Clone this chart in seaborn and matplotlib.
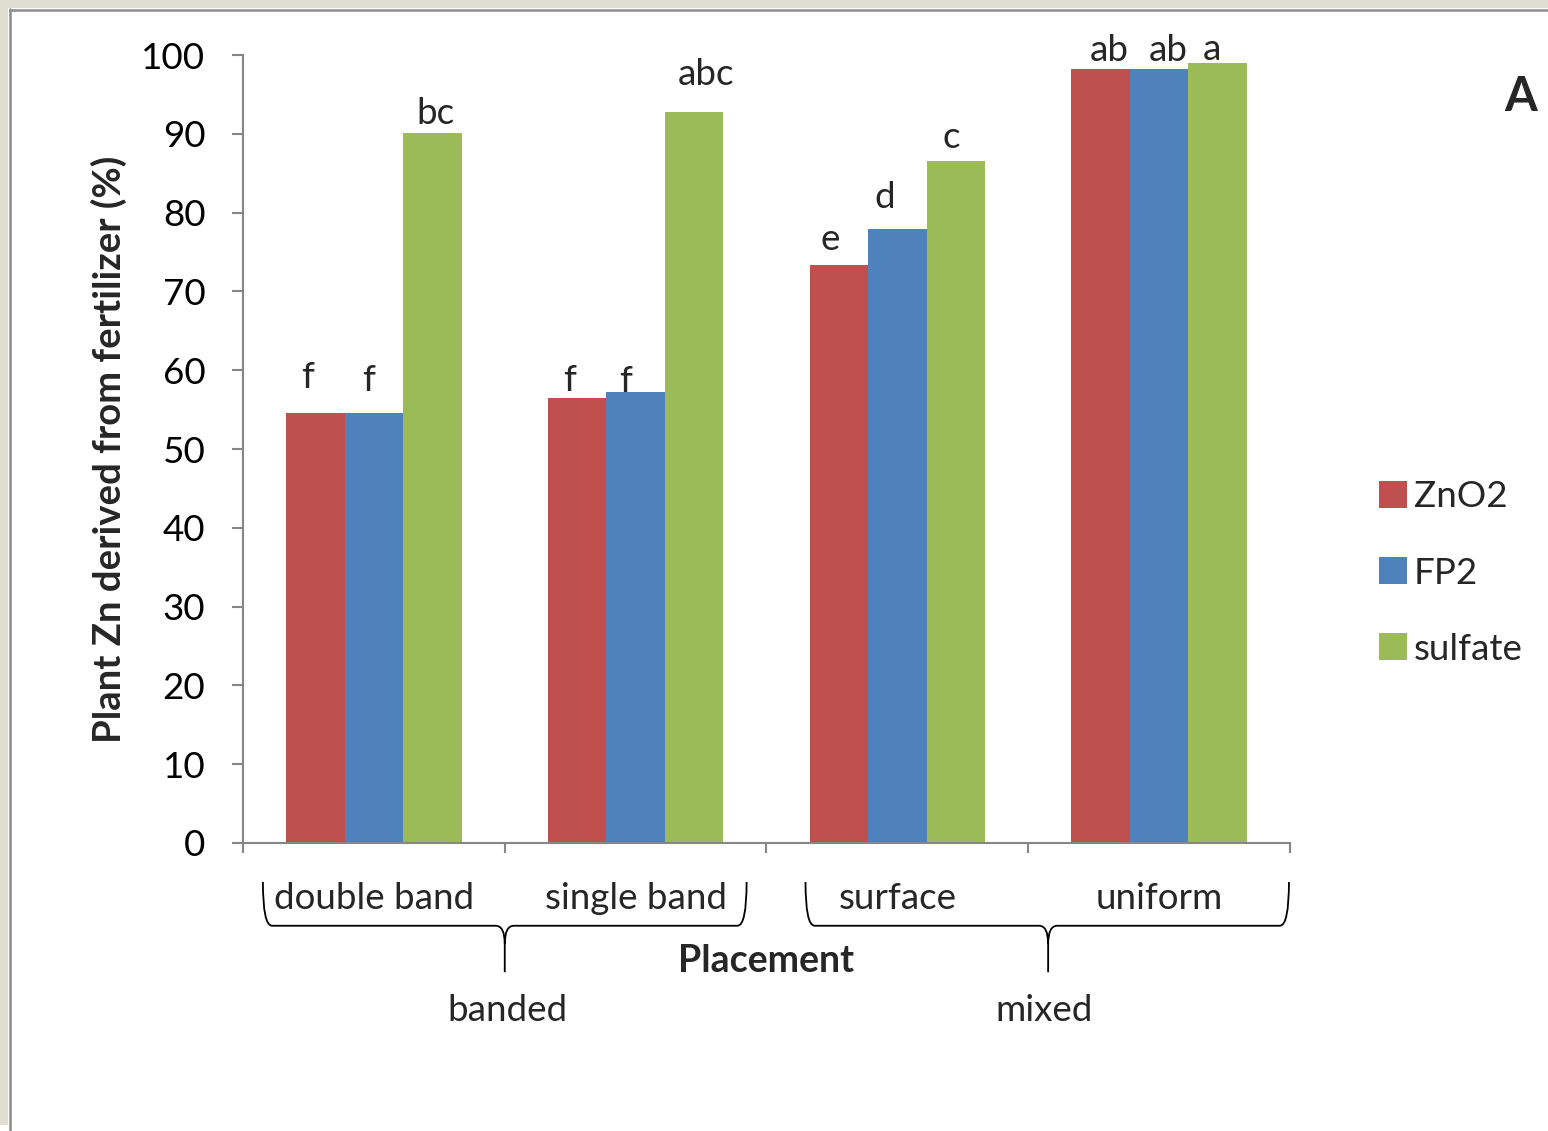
import matplotlib
matplotlib.use("Agg")
import matplotlib.pyplot as plt
from matplotlib.path import Path
from matplotlib.patches import PathPatch, Rectangle
from matplotlib.lines import Line2D
import seaborn as sns
import pandas as pd

placements = ["double band", "single band", "surface", "uniform"]
fertilizers = ["ZnO2", "FP2", "sulfate"]
znO2_vals = [54.6, 56.5, 73.4, 98.2]
fp2_vals = [54.6, 57.2, 77.9, 98.2]
sulfate_vals = [90.1, 92.8, 86.5, 99.0]
znO2_letters = ["f", "f", "e", "ab"]
fp2_letters = ["f", "f", "d", "ab"]
sulfate_letters = ["bc", "abc", "c", "a"]
groups = ["banded", "mixed"]
colors = ["#C0504D", "#4F81BD", "#9BBB59"]

# label placement tweaks (pixels: dx, height of label centre above bar top)
label_offsets = [
    [(-8, 35), (-8, 17), (-9, 25), (9, 19)],
    [(-5, 32), (-10, 11), (-13, 32), (9, 19)],
    [(3, 20), (12, 37), (-5, 24), (-6, 13)],
]

rows = []
for fert, vals in zip(fertilizers, [znO2_vals, fp2_vals, sulfate_vals]):
    for p, v in zip(placements, vals):
        rows.append({"placement": p, "fertilizer": fert, "value": v})
df = pd.DataFrame(rows)

sns.set_theme(style="white")
plt.rcParams["font.family"] = ["Lato", "DejaVu Sans"]

W, H = 1548, 1131
FS = 26.5
fig = plt.figure(figsize=(W / 100, H / 100), dpi=100, facecolor="white")
ax = fig.add_axes([243 / W, 1 - 843 / H, (1290 - 243) / W, (843 - 55) / H])

sns.barplot(data=df, x="placement", y="value", hue="fertilizer",
            order=placements, hue_order=fertilizers, palette=colors,
            saturation=1, width=0.67, errorbar=None, ax=ax,
            edgecolor="none", linewidth=0, legend=False)

ax.set_ylim(0, 100)
ax.set_xlim(-0.5, 3.5)
ax.set_yticks(range(0, 101, 10))
ax.tick_params(axis="y", labelsize=FS, length=8, width=1.5, color="#868686",
               pad=19, direction="out", left=True, labelcolor="black")
ax.set_xticks([])
ax.set_xticks([-0.5, 0.5, 1.5, 2.5, 3.5], minor=True)
ax.tick_params(axis="x", which="minor", length=7, width=1.5, color="#868686",
               direction="out", bottom=True)
for s in ["top", "right"]:
    ax.spines[s].set_visible(False)
for s in ["left", "bottom"]:
    ax.spines[s].set_color("#868686")
    ax.spines[s].set_linewidth(1.5)
ax.set_xlabel("")
ax.set_ylabel("Plant Zn derived from fertilizer (%)", fontsize=27.5,
              fontweight="bold", labelpad=10)

for cont, labs, offs in zip(ax.containers, [znO2_letters, fp2_letters, sulfate_letters], label_offsets):
    for bar, lab, (dx, dy) in zip(cont.patches, labs, offs):
        xc = bar.get_x() + bar.get_width() / 2
        ax.annotate(lab, xy=(xc, bar.get_height()), xytext=(dx * 0.72, dy * 0.72),
                    textcoords="offset points", ha="center", va="center",
                    fontsize=FS, annotation_clip=False)

xt = ax.get_xaxis_transform()
for i, p in enumerate(placements):
    ax.text(i, -0.071, p, transform=xt, ha="center", va="center",
            fontsize=FS, clip_on=False)

def brace(xl, xr, xc):
    yt, yb, ym, ybot = -0.0495, -0.105, -0.128, -0.164
    dx = 0.035
    verts = [(xl, yt), (xl, yb), (xl + dx, yb), (xc - dx, yb), (xc, yb), (xc, ym), (xc, ybot),
             (xr, yt), (xr, yb), (xr - dx, yb), (xc + dx, yb), (xc, yb), (xc, ym)]
    codes = [Path.MOVETO, Path.CURVE3, Path.CURVE3, Path.LINETO, Path.CURVE3, Path.CURVE3, Path.LINETO,
             Path.MOVETO, Path.CURVE3, Path.CURVE3, Path.LINETO, Path.CURVE3, Path.CURVE3]
    pp = PathPatch(Path(verts, codes), transform=xt, fill=False, edgecolor="black",
                   linewidth=1.3, clip_on=False)
    ax.add_patch(pp)

brace(-0.424, 1.424, 0.5)
brace(1.649, 3.496, 2.576)
ax.text(0.511, -0.213, groups[0], transform=xt, ha="center", va="center", fontsize=FS, clip_on=False)
ax.text(2.561, -0.213, groups[1], transform=xt, ha="center", va="center", fontsize=FS, clip_on=False)
ax.text(1.5, -0.150, "Placement", transform=xt, ha="center", va="center",
        fontsize=27, fontweight="bold", clip_on=False)

handles = [Rectangle((0, 0), 1, 1, facecolor=c, edgecolor="none") for c in colors]
fig.legend(handles, fertilizers, loc="center left", bbox_to_anchor=(1346 / W, 1 - 573 / H),
           frameon=False, fontsize=FS, handlelength=0.75, handleheight=0.75,
           handletextpad=0.2, labelspacing=1.17)

fig.text(1521 / W, 1 - 97 / H, "A", fontsize=34, fontweight="bold", ha="center", va="center")

beige = "#E0DED0"
fig.patches.append(Rectangle((0, 1 - 1125 / H), 8 / W, 1125 / H, transform=fig.transFigure,
                             facecolor=beige, edgecolor="none", zorder=0))
fig.patches.append(Rectangle((0, 1 - 8 / H), 1, 8 / H, transform=fig.transFigure,
                             facecolor=beige, edgecolor="none", zorder=0))
fig.lines.append(Line2D([9.5 / W, 9.5 / W], [0, 1 - 9 / H], transform=fig.transFigure,
                        color="#8C8C8C", linewidth=1.8))
fig.lines.append(Line2D([9.5 / W, 1], [1 - 9.5 / H, 1 - 9.5 / H], transform=fig.transFigure,
                        color="#8C8C8C", linewidth=1.8))

fig.savefig("out.png", dpi=100, facecolor="white")
